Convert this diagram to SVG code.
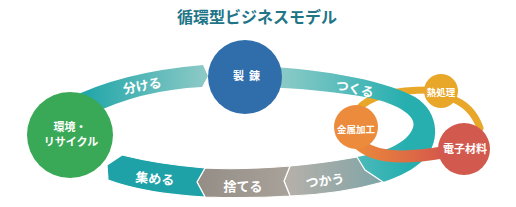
<svg xmlns="http://www.w3.org/2000/svg" width="516" height="207" viewBox="0 0 516 207">
<defs>
<linearGradient id="gWakeru" gradientUnits="userSpaceOnUse" x1="80" y1="0" x2="208" y2="0"><stop offset="0" stop-color="#1ea5a8"/><stop offset="1" stop-color="#8ecac7"/></linearGradient>
<linearGradient id="gTsukuru" gradientUnits="userSpaceOnUse" x1="275" y1="0" x2="405" y2="0"><stop offset="0" stop-color="#90cbc8"/><stop offset="1" stop-color="#27afb0"/></linearGradient>
<linearGradient id="gTsukau" gradientUnits="userSpaceOnUse" x1="290" y1="0" x2="385" y2="0"><stop offset="0" stop-color="#b4b0a9"/><stop offset="1" stop-color="#7ea4a7"/></linearGradient>
<linearGradient id="gSuteru" gradientUnits="userSpaceOnUse" x1="200" y1="0" x2="290" y2="0"><stop offset="0" stop-color="#958e86"/><stop offset="1" stop-color="#a8a29a"/></linearGradient>
<linearGradient id="gLink" gradientUnits="userSpaceOnUse" x1="355" y1="0" x2="445" y2="0"><stop offset="0" stop-color="#ec8a3a"/><stop offset="1" stop-color="#d4574b"/></linearGradient>
<style>
text{font-family:"Noto Sans CJK JP","Noto Sans",sans-serif;font-weight:bold;fill:#fff;text-anchor:middle;dominant-baseline:central}
.title{fill:#227587;font-size:16px}
.band{font-size:13px}
.big{font-size:11px}
.small{font-size:9.5px}
.seg{stroke:#fff;stroke-width:1.2;stroke-linejoin:miter}
.ylink{fill:none;stroke:#e9a72a;stroke-width:7;stroke-linecap:round}
</style>
</defs>
<rect width="516" height="207" fill="#fff"/>
<text class="title" x="257" y="16">循環型ビジネスモデル</text>

<g id="connectors">
<path class="ylink" d="M357,110 C370,95 395,90 430,90"/>
<path class="ylink" d="M450,98 Q472,105 480,128"/>
<g id="ring">
<path id="seg-wakeru" d="M66,100 Q120,72 203,65 L208,76 L202,87 Q140,90 90,115 Z" fill="url(#gWakeru)"/>
<path id="seg-tsukuru" d="M255,66 C310,68 380,78 415,97 C440,112 442,145 420,163 C408,173 395,178 383,182 L365,170 L357,157 C380,153 405,145 412,130 C420,117 398,104 370,98 C340,92 300,88 255,87 Z" fill="url(#gTsukuru)"/>
<path id="seg-tsukau" class="seg" d="M357,157 L365,170 L383,182 C355,190 320,195 290,196 L284,181 L290,166 C315,164 340,160 357,157 Z" fill="url(#gTsukau)"/>
<path id="seg-suteru" class="seg" d="M290,166 L284,181 L290,196 C260,198 230,198 205,197 L197,182 L205,168 C235,170 265,168 290,166 Z" fill="url(#gSuteru)"/>
<path id="seg-atsumeru" class="seg" d="M205,168 L197,182 L205,197 C170,195 135,190 108,180 L107,165 L122,155 C150,162 180,166 205,168 Z" fill="#1ea2a8"/>
</g>
<path d="M355,140 C370,158 400,160 445,152" fill="none" stroke="url(#gLink)" stroke-width="12"/>
</g>

<text class="band" x="142" y="85" transform="rotate(-11 142 85)">分ける</text>
<text class="band" x="355" y="88" transform="rotate(12 355 88)">つくる</text>
<text class="band" x="155" y="178" transform="rotate(5 155 178)">集める</text>
<text class="band" x="243" y="185">捨てる</text>
<text class="band" x="325" y="180" transform="rotate(-7 325 180)">つかう</text>

<g id="node-kankyo">
<circle cx="70" cy="135" r="43" fill="#39a957"/>
<text class="big" x="70" y="126">環境・</text>
<text class="big" x="71" y="141">リサイクル</text>
</g>
<g id="node-seiren">
<circle cx="245" cy="77" r="37" fill="#2f6dab"/>
<text class="big" x="249" y="75" letter-spacing="5">製錬</text>
</g>
<g id="node-kinzoku">
<circle cx="356" cy="127" r="22" fill="#ec8b3b"/>
<text class="small" x="356" y="129">金属加工</text>
</g>
<g id="node-netsu">
<circle cx="441" cy="91" r="17" fill="#e9a72a"/>
<text class="small" x="441" y="92">熱処理</text>
</g>
<g id="node-denshi">
<circle cx="464" cy="149" r="26" fill="#d2594d"/>
<text class="big" x="465" y="148">電子材料</text>
</g>
</svg>
